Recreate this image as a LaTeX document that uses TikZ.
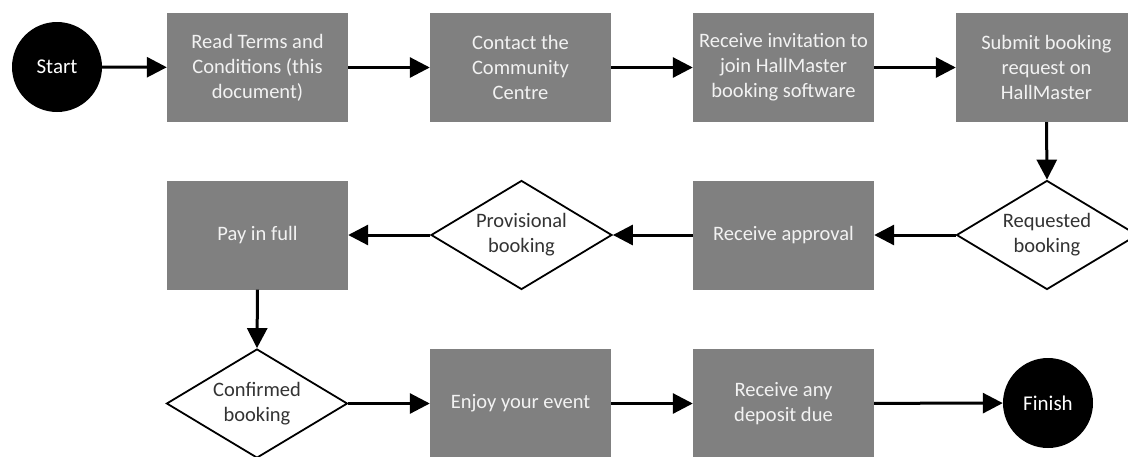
\documentclass[tikz,border=0pt]{standalone}
\usepackage{fontspec}
\setmainfont{Carlito}
\usetikzlibrary{shapes.geometric,arrows.meta}
\definecolor{boxgray}{HTML}{808080}
\definecolor{boxtext}{HTML}{F2F2F2}
\definecolor{dtext}{HTML}{333333}
\tikzset{
  stepbox/.style={rectangle, fill=boxgray, text=boxtext, minimum width=181pt, minimum height=109pt, inner sep=0pt, align=center, font=\fontsize{20.5}{25}\selectfont},
  decision/.style={diamond, draw=black, line width=1.8pt, fill=white, text=dtext, minimum width=181pt, minimum height=109pt, aspect=1.66, inner sep=0pt, align=center, font=\fontsize{20.5}{25}\selectfont},
  terminal/.style={circle, fill=black, text=white, minimum size=90pt, inner sep=0pt, font=\fontsize{21}{25}\selectfont},
  flow/.style={line width=3pt, -{Triangle[length=20pt,width=20pt]}}
}
\begin{document}
\begin{tikzpicture}[x=1pt,y=-1pt]
\useasboundingbox (0,0) rectangle (1128,456);
\clip (0,0) rectangle (1128,456);
% row 1
\node[terminal] (start) at (57,67) {Start};
\node[stepbox] (read) at (257.5,67.5) {Read Terms and\\Conditions (this\\document)};
\node[stepbox] (contact) at (520.5,67.5) {Contact the\\Community\\Centre};
\node[stepbox] (invite) at (783.5,67.5) {Receive invitation to\\join HallMaster\\booking software};
\node[stepbox] (submit) at (1046.5,67.5) {Submit booking\\request on\\HallMaster};
% row 2
\node[stepbox] (pay) at (257.5,235) {Pay in full};
\node[decision] (prov) at (521.5,235) {Provisional\\booking};
\node[stepbox] (approve) at (783.5,235) {Receive approval};
\node[decision] (req) at (1047,235) {Requested\\booking};
% row 3
\node[decision] (conf) at (257,403.5) {Confirmed\\booking};
\node[stepbox] (enjoy) at (520.5,403.5) {Enjoy your event};
\node[stepbox] (deposit) at (783.5,403.5) {Receive any\\deposit due};
\node[terminal] (finish) at (1048,403) {Finish};
% connectors
\draw[flow] (start) -- (read);
\draw[flow] (read) -- (contact);
\draw[flow] (contact) -- (invite);
\draw[flow] (invite) -- (submit);
\draw[flow] (submit.south) -- (req.north);
\draw[flow] (req) -- (approve);
\draw[flow] (approve) -- (prov);
\draw[flow] (prov) -- (pay);
\draw[flow] (pay.south) -- (conf.north);
\draw[flow] (conf) -- (enjoy);
\draw[flow] (enjoy) -- (deposit);
\draw[flow] (deposit) -- (finish);
\end{tikzpicture}
\end{document}
